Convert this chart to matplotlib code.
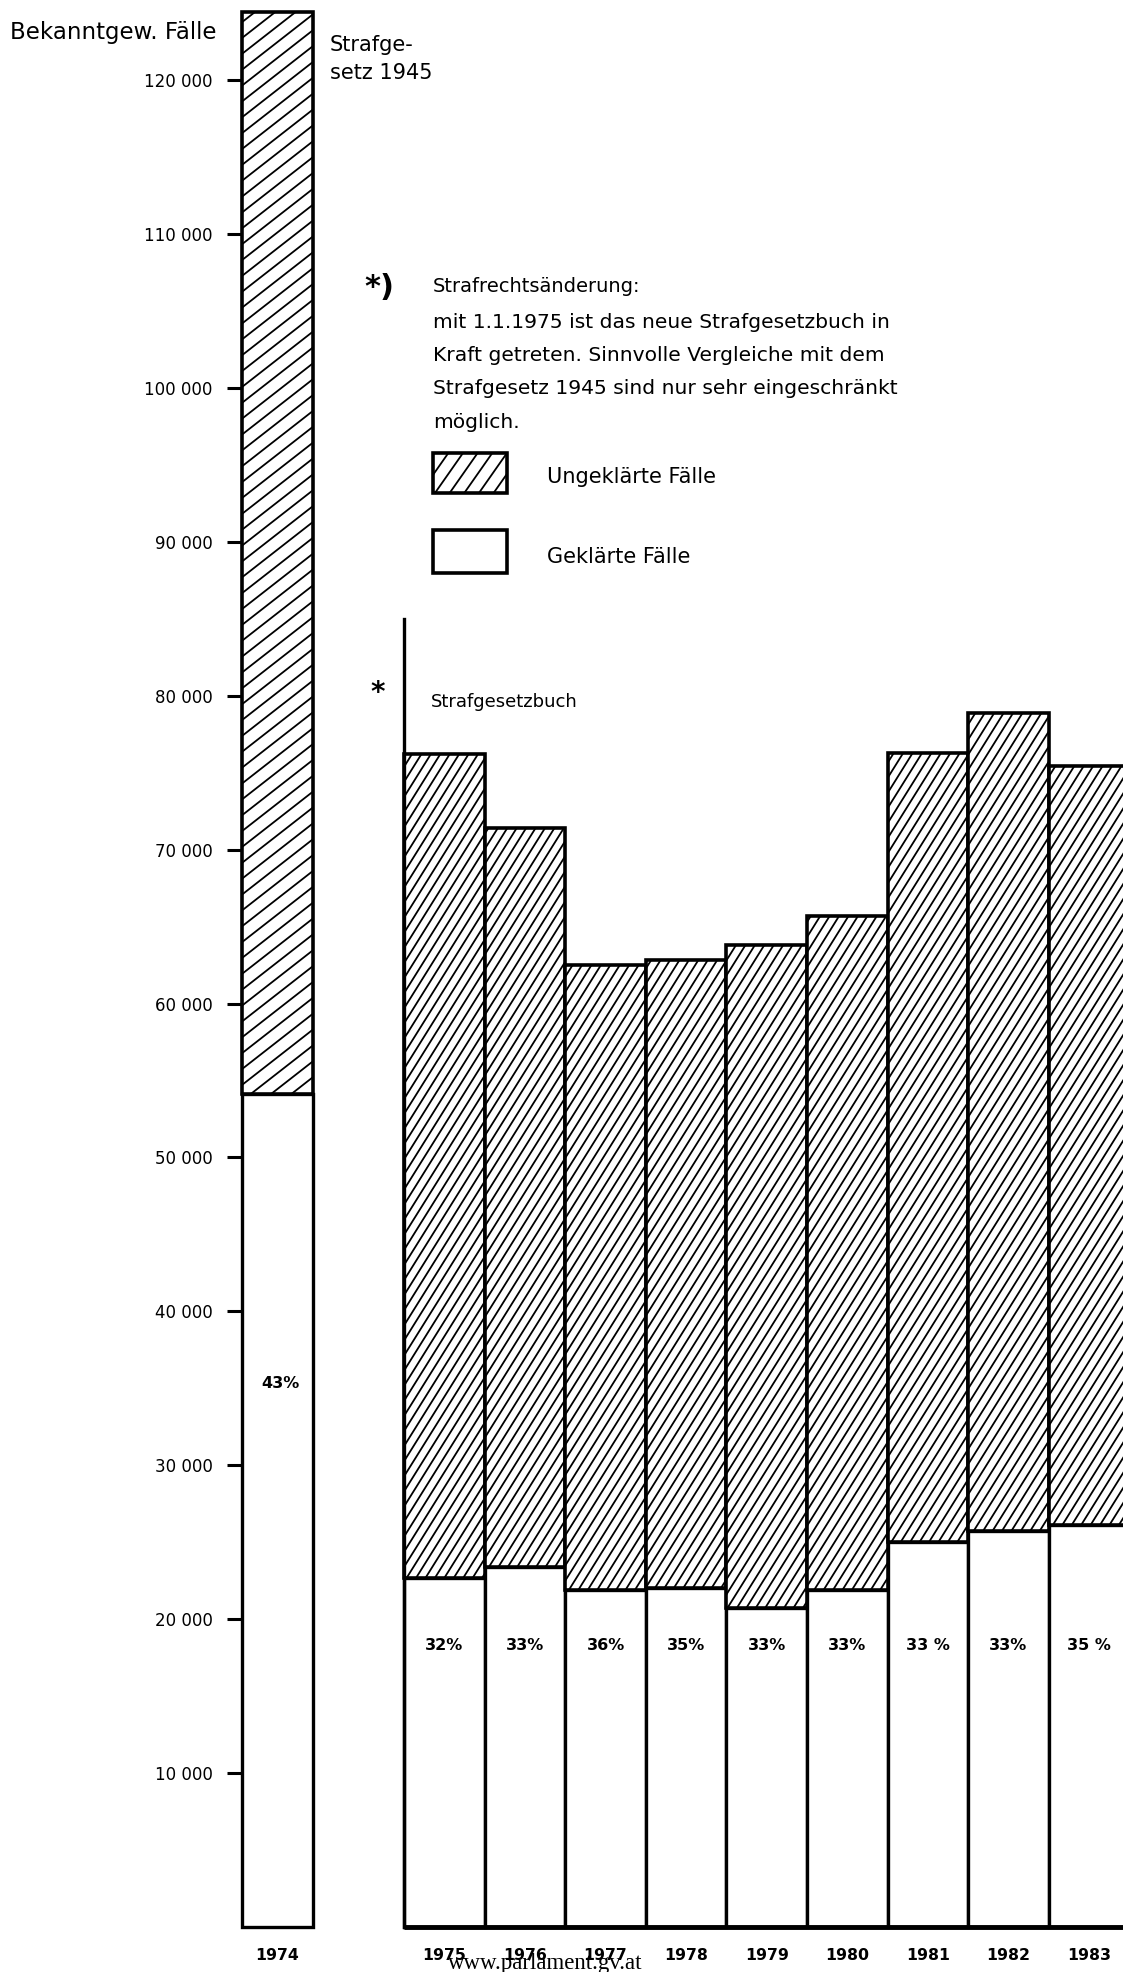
import numpy as np
import matplotlib
matplotlib.use('Agg')
import matplotlib.pyplot as plt
from matplotlib.collections import LineCollection
from matplotlib.patches import Rectangle
from matplotlib.transforms import IdentityTransform

# Bekanntgewordene und geklaerte Faelle
years = ['1974', '1975', '1976', '1977', '1978', '1979', '1980', '1981', '1982', '1983']
bekannt = [124400, 76200, 71400, 62500, 62800, 63800, 65700, 76300, 78900, 75400]
geklaert = [54100, 22700, 23400, 21900, 22000, 20700, 21900, 25000, 25700, 26100]
quoten = ['43%', '32%', '33%', '36%', '35%', '33%', '33%', '33 %', '33%', '35 %']
y_ticks = [10000, 20000, 30000, 40000, 50000, 60000, 70000, 80000, 90000, 100000, 110000, 120000]

fussnote = ['mit 1.1.1975 ist das neue Strafgesetzbuch in',
            'Kraft getreten. Sinnvolle Vergleiche mit dem',
            'Strafgesetz 1945 sind nur sehr eingeschränkt',
            'möglich.']

plt.rcParams['font.family'] = ['DejaVu Sans']

W, H = 1123, 1972
fig = plt.figure(figsize=(W / 100, H / 100), dpi=100)
ax = fig.add_axes([0, 45 / H, 1, 1927 / H])
ax.set_ylim(0, 125200)
unit = 80.6
ax.set_xlim(-0.5 - 404 / unit, -0.5 + (W - 404) / unit)

xpos = [-2.07] + list(range(9))
widths = [0.88] + [1] * 9
ungeklaert = np.array(bekannt) - np.array(geklaert)


def hatch(patch, angle, gap, lw=1.3):
    # parallel lines in pixel space, clipped to the patch
    bb = patch.get_window_extent()
    a = np.radians(angle)
    d = np.array([np.cos(a), np.sin(a)])
    n = np.array([-np.sin(a), np.cos(a)])
    corners = np.array([[bb.x0, bb.y0], [bb.x1, bb.y0], [bb.x0, bb.y1], [bb.x1, bb.y1]])
    proj = corners @ n
    span = np.hypot(bb.width, bb.height)
    along = corners.mean(axis=0) @ d
    segs = []
    for i in range(int(np.floor(proj.min() / gap)), int(np.ceil(proj.max() / gap)) + 1):
        base = n * i * gap + d * along
        segs.append([base - d * span, base + d * span])
    lc = LineCollection(segs, colors='black', linewidths=lw, transform=IdentityTransform())
    lc.set_clip_path(patch)
    fig.add_artist(lc)


low = ax.bar(xpos, geklaert, widths, color='white', edgecolor='black', linewidth=2.4, clip_on=False)
high = ax.bar(xpos, ungeklaert, widths, bottom=geklaert, color='white', edgecolor='black',
              linewidth=2.6, clip_on=False)
for i, bar in enumerate(high):
    if i == 0:
        hatch(bar, 38, 12.5)
    else:
        hatch(bar, 58, 8)

# Grundlinie und Achse Strafgesetzbuch
ax.plot([-0.5, ax.get_xlim()[1]], [0, 0], color='black', lw=3.5, clip_on=False, solid_capstyle='butt')
ax.plot([-0.5, -0.5], [0, 85000], color='black', lw=2.4, clip_on=False)

for x, q, y in zip(xpos, quoten, [35300] + [18300] * 9):
    ax.text(x + (0.04 if y > 30000 else 0), y, q, ha='center', va='center',
            fontsize=11.5, fontweight='bold')

for s in ax.spines.values():
    s.set_visible(False)
ax.spines['left'].set_position(('data', xpos[0] - widths[0] / 2))
ax.set_yticks(y_ticks, [f'{v // 1000} 000' for v in y_ticks])
ax.tick_params(axis='y', length=11, width=2.2, pad=10, labelsize=12, direction='out')
ax.set_xticks(xpos, years)
ax.tick_params(axis='x', length=0, pad=15, labelsize=11.3)
for lab in ax.get_xticklabels():
    lab.set_fontweight('bold')


def fx(x, y):
    return x / W, 1 - y / H


fig.text(*fx(10, 33), 'Bekanntgew. Fälle', fontsize=16.5, va='center')
fig.text(*fx(330, 45), 'Strafge-', fontsize=15, va='center')
fig.text(*fx(330, 73), 'setz 1945', fontsize=15, va='center')

fig.text(*fx(364, 287), '*)', fontsize=22, va='center', fontweight='bold')
fig.text(*fx(433, 286), 'Strafrechtsänderung:', fontsize=14, va='center')
for j, line in enumerate(fussnote):
    fig.text(*fx(433, 322 + j * 33.5), line, fontsize=14.6, va='center')

box1 = Rectangle(fx(433, 493), 74 / W, 40 / H, transform=fig.transFigure,
                 facecolor='white', edgecolor='black', linewidth=2.6)
box2 = Rectangle(fx(433, 573), 74 / W, 43 / H, transform=fig.transFigure,
                 facecolor='white', edgecolor='black', linewidth=2.6)
fig.add_artist(box1)
fig.add_artist(box2)
hatch(box1, 55, 12)
fig.text(*fx(547, 477), 'Ungeklärte Fälle', fontsize=15, va='center')
fig.text(*fx(547, 557), 'Geklärte Fälle', fontsize=15, va='center')

fig.text(*fx(370, 693), '*', fontsize=20, va='center', fontweight='bold')
fig.text(*fx(431, 702), 'Strafgesetzbuch', fontsize=13, va='center')

fig.text(*fx(448, 1963), 'www.parlament.gv.at', fontsize=16.5, va='center',
         family='Liberation Serif')

fig.savefig('out.png', dpi=100, facecolor='white')
